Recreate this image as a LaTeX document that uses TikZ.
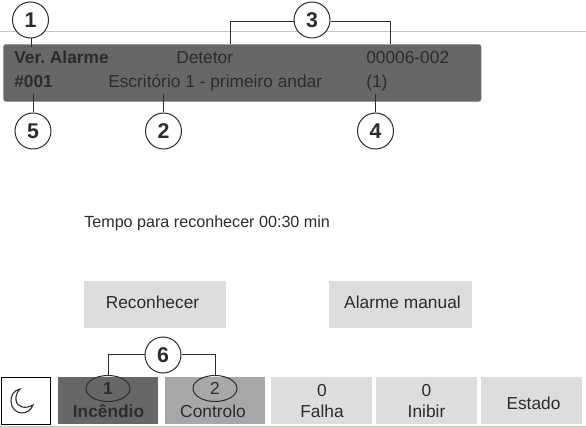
\documentclass[tikz,border=0pt]{standalone}
\usepackage{fontspec}
\setmainfont{Liberation Sans}
\usetikzlibrary{shapes.geometric}
\definecolor{bardark}{HTML}{666868}
\definecolor{barmid}{HTML}{A5A7A8}
\definecolor{btn}{HTML}{DCDDDD}
\definecolor{rule}{HTML}{C4C8C0}
\definecolor{ink}{HTML}{2A2C2D}
\frenchspacing
\tikzset{
  x=0.75pt,y=-0.75pt,
  callout/.style={circle,draw=ink,fill=white,line width=0.75pt,minimum size=27pt,inner sep=0pt,font=\fontsize{16}{18}\selectfont\bfseries,text=ink},
  lead/.style={draw=ink,line width=0.75pt},
  ring/.style={ellipse,draw=ink,line width=0.75pt,minimum width=33pt,minimum height=19.5pt,inner sep=0pt,font=\fontsize{13}{15}\selectfont,text=ink},
  btnbox/.style={rectangle,draw=none,fill=btn,inner sep=0pt,minimum width=#1*0.75pt},
  label/.style={inner sep=0pt,anchor=base west,text=ink,font=\fontsize{13}{15}\selectfont},
  mid/.style={inner sep=0pt,anchor=base,text=ink,font=\fontsize{13}{15}\selectfont},
}
\begin{document}
\begin{tikzpicture}
\useasboundingbox (0,0) rectangle (586,427);
\fill[white] (0,0) rectangle (586,427);
\draw[rule,line width=0.7pt] (0,31) -- (586,31);
\draw[rule,line width=0.7pt] (0,426) -- (586,426);
% header bar
\node[draw=none,fill=bardark,rounded corners=2pt,minimum width=358.5pt,minimum height=43pt,inner sep=0pt,anchor=north west] (bar) at (3,44) {};
\node[label,font=\fontsize{13}{15}\selectfont\bfseries] (veralarme) at (14,64) {Ver. Alarme};
\node[label] (detetor) at (176,64) {Detetor};
\node[label] (codigo) at (366,64) {00006-002};
\node[label,font=\fontsize{13}{15}\selectfont\bfseries] (num) at (14,88) {\#001};
\node[label] (local) at (108,88) {Escritório 1 - primeiro andar};
\node[label] (um) at (366,88) {(1)};
% middle
\node[label,font=\fontsize{12.1}{14}\selectfont] (tempo) at (84,228) {Tempo para reconhecer 00:30 min};
\node[btnbox=142,minimum height=35.25pt,anchor=north west] (rec) at (84,281) {};
\node[mid] at (152.5,309) {Reconhecer};
\node[btnbox=143,minimum height=35.25pt,anchor=north west] (man) at (329,281) {};
\node[mid] at (402.5,309) {Alarme manual};
% bottom buttons
\node[rectangle,draw=black,fill=white,line width=0.75pt,minimum width=37pt,minimum height=35pt,inner sep=0pt,anchor=north west] (moonbox) at (0.5,377) {};
\draw[ink,line width=0.8pt] (20,389) .. controls (13,391) and (11,396) .. (11,401) .. controls (11,408) and (16,413) .. (22,413) .. controls (27,413) and (31,410) .. (33,405)
  .. controls (26,409) and (17,408) .. (16,400) .. controls (15.5,396) and (17,392) .. (20,389) -- cycle;
\node[btnbox=100,fill=bardark,minimum height=35.25pt,anchor=north west] (inc) at (58,377) {};
\node[btnbox=100,fill=barmid,minimum height=35.25pt,anchor=north west] (con) at (165,377) {};
\node[btnbox=101,minimum height=35.25pt,anchor=north west] (fal) at (271,377) {};
\node[btnbox=101,minimum height=35.25pt,anchor=north west] (ini) at (376,377) {};
\node[btnbox=101,minimum height=35.25pt,anchor=north west] (est) at (481,377) {};
\node[mid,font=\fontsize{13}{15}\selectfont\bfseries] at (108.5,418) {Incêndio};
\node[mid] at (213,418) {Controlo};
\node[mid] at (322,397) {0};
\node[mid] at (322,418) {Falha};
\node[mid] at (426.5,397) {0};
\node[mid] at (426.5,418) {Inibir};
\node[mid] at (533.5,410) {Estado};
\node[ring] (r1) at (108,388.5) {\textbf{1}};
\node[ring] (r2) at (215,388.5) {2};
% callouts
\node[callout] (c1) at (30.5,20) {1};
\node[callout] (c3) at (312,20) {3};
\node[callout] (c5) at (33,131) {5};
\node[callout] (c2) at (163.5,131) {2};
\node[callout] (c4) at (375.5,131) {4};
\node[callout] (c6) at (163,355) {6};
\coordinate (t1) at (31.5,47);
\coordinate (t3a) at (230,44);
\coordinate (t3b) at (390,44);
\coordinate (t5) at (33,94);
\coordinate (t2) at (163.5,94);
\coordinate (t4) at (375.5,94);
\draw[lead] (c1.south-|t1) -- (t1);
\draw[lead] (c3.west|-0,22) -| (t3a);
\draw[lead] (c3.east|-0,22) -| (t3b);
\draw[lead] (c5) -- (t5);
\draw[lead] (c2) -- (t2);
\draw[lead] (c4) -- (t4);
\draw[lead] (c6) -| (r1);
\draw[lead] (c6) -| (r2);
\end{tikzpicture}
\end{document}
